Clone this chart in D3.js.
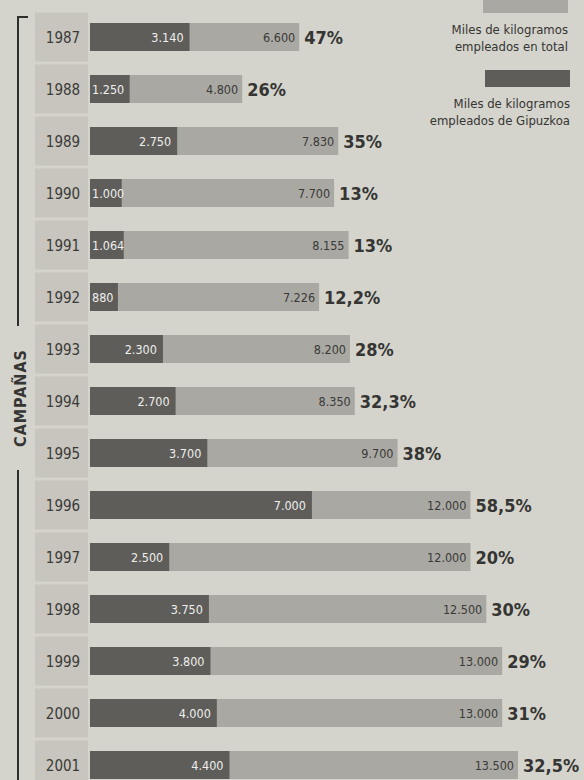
<!DOCTYPE html>
<html>
<head>
<meta charset="utf-8">
<script src="https://cdn.jsdelivr.net/npm/d3@7"></script>
<style>
  body { margin: 0; background: #d4d3cc; }
  svg { display: block; font-family: "DejaVu Sans Condensed", "Liberation Sans Narrow", sans-serif; }
</style>
</head>
<body>
<svg id="chart" width="584" height="780"></svg>
<script>
var years = ["1987", "1988", "1989", "1990", "1991", "1992", "1993", "1994",
             "1995", "1996", "1997", "1998", "1999", "2000", "2001"];
var gipuzkoa = [3140, 1250, 2750, 1000, 1064, 880, 2300, 2700, 3700, 7000, 2500, 3750, 3800, 4000, 4400];
var total = [6600, 4800, 7830, 7700, 8155, 7226, 8200, 8350, 9700, 12000, 12000, 12500, 13000, 13000, 13500];
var pctLabels = ["47%", "26%", "35%", "13%", "13%", "12,2%", "28%", "32,3%", "38%",
                 "58,5%", "20%", "30%", "29%", "31%", "32,5%"];
var legendTotal = ["Miles de kilogramos", "empleados en total"];
var legendGip = ["Miles de kilogramos", "empleados de Gipuzkoa"];

(function() {
  var svg = d3.select("svg#chart");

  var lightCol = "#a9a8a3",
      darkCol = "#5e5d5a",
      cellCol = "#c7c5be",
      ink = "#353533";

  var rows = years.map(function(y, i) {
    return { year: y, gip: gipuzkoa[i], total: total[i], pct: pctLabels[i] };
  });

  var x = d3.scaleLinear().domain([0, 13500]).range([90, 518]);
  var y = d3.scaleBand().domain(years).range([11, 791]).paddingInner(0);
  var barH = 28;

  // spanish thousands: 3.140
  var fmt = d3.formatLocale({ decimal: ",", thousands: ".", grouping: [3], currency: ["", "€"] }).format(",d");

  // year cells
  svg.selectAll(".cell")
    .data(rows)
    .enter().append("rect")
    .attr("class", "cell")
    .attr("x", 35)
    .attr("width", 53)
    .attr("y", function(d) { return y(d.year) + 1.5; })
    .attr("height", y.bandwidth() - 3)
    .style("fill", cellCol);

  svg.selectAll(".year")
    .data(rows)
    .enter().append("text")
    .attr("class", "year")
    .attr("x", 63)
    .attr("y", function(d) { return y(d.year) + y.bandwidth() / 2 + 6; })
    .attr("text-anchor", "middle")
    .style("font-size", "15px")
    .style("fill", "#3a3a38")
    .text(function(d) { return d.year; });

  var g = svg.selectAll(".row")
    .data(rows)
    .enter().append("g")
    .attr("class", "row")
    .attr("transform", function(d) { return "translate(0," + (y(d.year) + (y.bandwidth() - barH) / 2) + ")"; });

  g.append("rect")
    .attr("x", x(0))
    .attr("width", function(d) { return x(d.total) - x(0); })
    .attr("height", barH)
    .style("fill", lightCol);

  g.append("rect")
    .attr("x", x(0))
    .attr("width", function(d) { return x(d.gip) - x(0); })
    .attr("height", barH)
    .style("fill", darkCol);

  g.append("text")
    .attr("x", function(d) { return x(d.gip) - x(0) < 45 ? x(0) + 2 : x(d.gip) - 6; })
    .attr("y", barH / 2 + 4.5)
    .attr("text-anchor", function(d) { return x(d.gip) - x(0) < 45 ? "start" : "end"; })
    .style("font-size", "12.5px")
    .style("fill", "#efefec")
    .text(function(d) { return fmt(d.gip); });

  g.append("text")
    .attr("x", function(d) { return x(d.total) - 4; })
    .attr("y", barH / 2 + 4.5)
    .attr("text-anchor", "end")
    .style("font-size", "12.5px")
    .style("fill", "#3a3a38")
    .text(function(d) { return fmt(d.total); });

  g.append("text")
    .attr("x", function(d) { return x(d.total) + 5; })
    .attr("y", barH / 2 + 6.5)
    .style("font-size", "18px")
    .style("font-weight", "bold")
    .style("fill", ink)
    .text(function(d) { return d.pct; });

  // bracket with "CAMPAÑAS"
  svg.append("path")
    .attr("d", "M28,17H18V326M18,470V780")
    .style("fill", "none")
    .style("stroke", "#2e2e2c")
    .style("stroke-width", 2);

  svg.append("text")
    .attr("transform", "translate(26,398) rotate(-90)")
    .attr("text-anchor", "middle")
    .style("font-size", "16px")
    .style("font-weight", "bold")
    .style("letter-spacing", "1px")
    .style("fill", ink)
    .text("CAMPAÑAS");

  // legend
  svg.append("rect").attr("x", 483).attr("y", -5).attr("width", 85).attr("height", 18).style("fill", lightCol);
  svg.append("rect").attr("x", 485).attr("y", 70).attr("width", 85).attr("height", 17).style("fill", darkCol);

  svg.selectAll(".leg1")
    .data(legendTotal)
    .enter().append("text")
    .attr("class", "leg1")
    .attr("x", 568)
    .attr("y", function(d, i) { return 34 + i * 17; })
    .attr("text-anchor", "end")
    .style("font-size", "13px")
    .style("fill", ink)
    .text(function(d) { return d; });

  svg.selectAll(".leg2")
    .data(legendGip)
    .enter().append("text")
    .attr("class", "leg2")
    .attr("x", 570)
    .attr("y", function(d, i) { return 108 + i * 17; })
    .attr("text-anchor", "end")
    .style("font-size", "13px")
    .style("fill", ink)
    .text(function(d) { return d; });
})();
</script>
</body>
</html>
